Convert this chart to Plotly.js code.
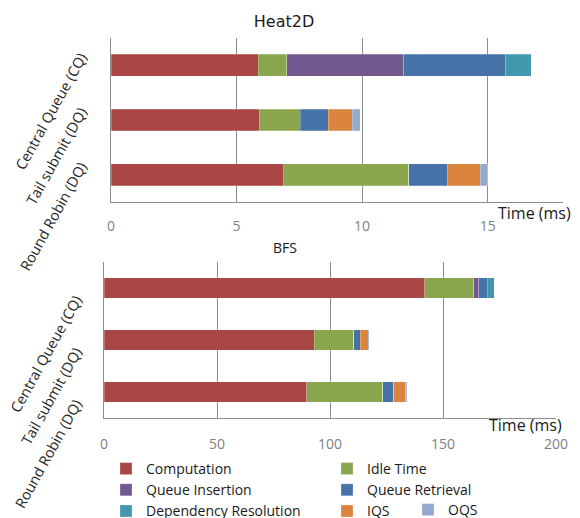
<!DOCTYPE html>
<html>
<head>
<meta charset="utf-8">
<script src="https://cdn.plot.ly/plotly-3.0.1.min.js"></script>
<style>html,body{margin:0;padding:0;background:#fff}#chart{width:580px;height:518px}</style>
</head>
<body>
<div id="chart"></div>
<script>
// ---- data ----
const categories = ['Central Queue (CQ)', 'Tail submit (DQ)', 'Round Robin (DQ)'];
const seriesNames = ['Computation', 'Idle Time', 'Queue Insertion', 'Queue Retrieval', 'Dependency Resolution', 'IQS', 'OQS'];

// Heat2D (ms) per category
const heatComputation = [5.86, 5.91, 6.88];
const heatIdle        = [1.14, 1.62, 4.98];
const heatQInsert     = [4.66, 0, 0];
const heatQRetrieve   = [4.05, 1.12, 1.54];
const heatDepRes      = [1.02, 0, 0];
const heatIQS         = [0, 0.96, 1.31];
const heatOQS         = [0, 0.32, 0.29];

// BFS (ms) per category
const bfsComputation = [142.0, 93.0, 89.8];
const bfsIdle        = [21.7, 17.4, 33.5];
const bfsQInsert     = [2.1, 0, 0];
const bfsQRetrieve   = [3.8, 3.0, 4.9];
const bfsDepRes      = [3.0, 0, 0];
const bfsIQS         = [0, 3.5, 5.4];
const bfsOQS         = [0, 0.4, 0.4];

const heatSeries = [heatComputation, heatIdle, heatQInsert, heatQRetrieve, heatDepRes, heatIQS, heatOQS];
const bfsSeries  = [bfsComputation, bfsIdle, bfsQInsert, bfsQRetrieve, bfsDepRes, bfsIQS, bfsOQS];

// ---- styles ----
const colors = ['#AA4643', '#89A54E', '#71588F', '#4572A7', '#4198AF', '#DB843D', '#93A9CF'];
const W = 580, H = 518;
const fx = px => px / W;
const fy = py => 1 - py / H;

const traces = [];
seriesNames.forEach((name, i) => {
  traces.push({
    type: 'bar', orientation: 'h', name: name,
    x: heatSeries[i], y: categories,
    xaxis: 'x', yaxis: 'y',
    marker: {color: colors[i], line: {color: 'rgba(255,255,255,0.5)', width: 0.5}},
    legendgroup: name,
    legend: name === 'OQS' ? 'legend2' : 'legend',
    showlegend: true
  });
});
seriesNames.forEach((name, i) => {
  traces.push({
    type: 'bar', orientation: 'h', name: name,
    x: bfsSeries[i], y: categories,
    xaxis: 'x2', yaxis: 'y2',
    marker: {color: colors[i], line: {color: 'rgba(255,255,255,0.5)', width: 0.5}},
    legendgroup: name,
    showlegend: false
  });
});

const gridC = '#8c8c8c';
const tickFont = {family: 'Open Sans', size: 14, color: '#7f7f7f'};
const catFont = {family: 'Open Sans', size: 14.5, color: '#262626'};
const legFont = {family: 'Open Sans', size: 14, color: '#1a1a1a'};

const layout = {
  width: W, height: H,
  margin: {l: 0, r: 0, t: 0, b: 0, autoexpand: false},
  paper_bgcolor: '#fff', plot_bgcolor: '#fff',
  barmode: 'stack', bargap: 0.6,
  title: {text: 'Heat2D', x: fx(284), xanchor: 'center', y: fy(21), yanchor: 'middle',
          font: {family: 'DejaVu Sans', size: 16, color: '#1a1a1a'}},
  xaxis: {domain: [fx(111), fx(563)], range: [0, 18], tick0: 0, dtick: 5, anchor: 'y',
          showgrid: true, gridcolor: gridC, gridwidth: 1, showline: true, linecolor: gridC, linewidth: 1,
          zeroline: false, ticks: '', tickfont: tickFont, ticklabelstandoff: 11, automargin: false, fixedrange: true},
  yaxis: {domain: [fy(202), fy(38)], type: 'category', autorange: 'reversed', anchor: 'x',
          showgrid: false, showline: true, linecolor: gridC, linewidth: 1, zeroline: false,
          ticks: '', tickangle: -61, tickfont: catFont, ticklabelstandoff: 26, ticklabelshift: 10,
          automargin: false, fixedrange: true},
  xaxis2: {domain: [fx(104), fx(556)], range: [0, 200], tick0: 0, dtick: 50, anchor: 'y2',
          showgrid: true, gridcolor: gridC, gridwidth: 1, showline: true, linecolor: gridC, linewidth: 1,
          zeroline: false, ticks: '', tickfont: tickFont, ticklabelstandoff: 13, automargin: false, fixedrange: true},
  yaxis2: {domain: [fy(418), fy(262)], type: 'category', autorange: 'reversed', anchor: 'x2',
          showgrid: false, showline: true, linecolor: gridC, linewidth: 1, zeroline: false,
          ticks: '', tickangle: -61, tickfont: catFont, ticklabelstandoff: 24, ticklabelshift: -10,
          automargin: false, fixedrange: true},
  legend: {orientation: 'h', x: fx(106), xanchor: 'left', y: fy(453), yanchor: 'top',
           entrywidth: 176, traceorder: 'normal', bgcolor: 'rgba(0,0,0,0)', font: legFont},
  legend2: {orientation: 'h', x: fx(408), xanchor: 'left', y: fy(494), yanchor: 'top',
           bgcolor: 'rgba(0,0,0,0)', font: legFont},
  annotations: [
    {text: 'BFS', xref: 'paper', yref: 'paper', x: fx(285), y: fy(247), xanchor: 'center', yanchor: 'middle',
     showarrow: false, font: {family: 'Open Sans', size: 14, color: '#1a1a1a'}},
    {text: 'Time (ms)', xref: 'paper', yref: 'paper', x: fx(534), y: fy(213), xanchor: 'center', yanchor: 'middle',
     showarrow: false, font: {family: 'Open Sans', size: 16, color: '#1a1a1a'}},
    {text: 'Time (ms)', xref: 'paper', yref: 'paper', x: fx(525), y: fy(425), xanchor: 'center', yanchor: 'middle',
     showarrow: false, font: {family: 'Open Sans', size: 16, color: '#1a1a1a'}}
  ]
};

Plotly.newPlot('chart', traces, layout, {displayModeBar: false, staticPlot: true});
</script>
</body>
</html>
